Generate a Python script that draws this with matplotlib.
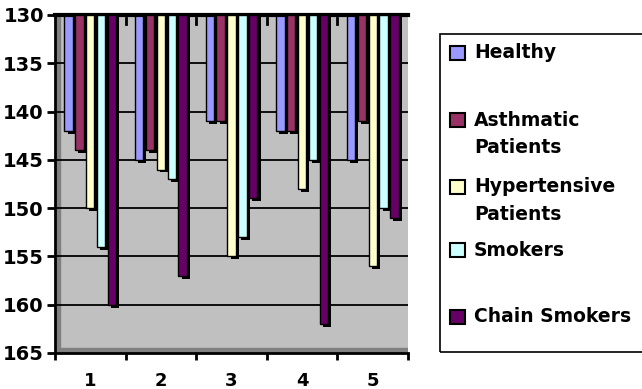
import numpy as np
import matplotlib.pyplot as plt
from matplotlib.patches import Rectangle
from matplotlib.transforms import blended_transform_factory

groups = ['1', '2', '3', '4', '5']
series = ['Healthy', 'Asthmatic\nPatients', 'Hypertensive\nPatients', 'Smokers', 'Chain Smokers']
healthy = [142, 145, 141, 142, 145]
asthmatic = [144, 144, 141, 142, 141]
hypertensive = [150, 146, 155, 148, 156]
smokers = [154, 147, 153, 145, 150]
chain_smokers = [160, 157, 149, 162, 151]
colors = ['#9999FF', '#993366', '#FFFFCC', '#CCFFFF', '#660066']
yticks = [130, 135, 140, 145, 150, 155, 160, 165]

values = [healthy, asthmatic, hypertensive, smokers, chain_smokers]
base = 130

fig = plt.figure(figsize=(6.42, 3.89), dpi=100, facecolor='white')
ax = fig.add_axes([55 / 642, 36 / 389, 353 / 642, 338 / 389])
ax.set_facecolor('#C0C0C0')

x = np.arange(len(groups))
pitch = 0.154
face_w = 0.118
dx, dy = 0.045, 0.3

for gy in yticks[1:-1]:
    ax.axhline(gy, color='black', lw=1.3, zorder=1)

# darker side wall and floor of the 3D box
ax.add_patch(Rectangle((0, 0), 0.015, 1, transform=ax.transAxes,
                       color='#808080', zorder=0.5))
ax.add_patch(Rectangle((0, 0), 1, 0.014, transform=ax.transAxes,
                       color='#808080', zorder=0.5))

for k, (vals, col) in enumerate(zip(values, colors)):
    xs = x + (k - 2) * pitch
    heights = np.array(vals) - base
    # shaded depth of each bar
    ax.bar(xs + dx, heights + dy, width=face_w, bottom=base, color='black',
           zorder=2 + k)
    ax.bar(xs, heights, width=face_w, bottom=base, color=col,
           edgecolor='black', lw=1.0, zorder=2.5 + k)

# small category separators hanging from the top edge
trans = blended_transform_factory(ax.transData, ax.transAxes)
for b in np.arange(1, len(groups)) - 0.5:
    ax.plot([b, b], [0.99, 0.972], color='black', lw=2, transform=trans,
            zorder=10)

ax.set_xlim(-0.5, len(groups) - 0.5)
ax.set_ylim(165, 130)
ax.set_yticks(yticks)
ax.set_yticklabels([str(t) for t in yticks], fontsize=14, fontweight='bold')
ax.set_xticks(x)
ax.set_xticklabels(groups, fontsize=13, fontweight='bold')
ax.set_xticks(np.arange(len(groups) + 1) - 0.5, minor=True)
ax.tick_params(axis='x', which='major', length=0, pad=14)
ax.tick_params(axis='x', which='minor', length=5, width=2, direction='out')
ax.tick_params(axis='y', length=6, width=2, pad=2)

for side in ['left', 'bottom']:
    ax.spines[side].set_linewidth(2)
ax.spines['top'].set_linewidth(3)
ax.spines['right'].set_visible(False)

# legend box on the right
fig.patches.append(Rectangle((440 / 642, 37 / 389), 210 / 642, 318 / 389,
                             transform=fig.transFigure, fill=False,
                             edgecolor='black', lw=1.2))
label_y = [53, 120, 187, 250, 317]
line_gap = 27
for lab, col, ly in zip(series, colors, label_y):
    fig.patches.append(Rectangle((450 / 642, 1 - (ly + 7) / 389),
                                 15 / 642, 14 / 389,
                                 transform=fig.transFigure, facecolor=col,
                                 edgecolor='black', lw=1.5))
    for i, line in enumerate(lab.split('\n')):
        fig.text(474 / 642, 1 - (ly + i * line_gap) / 389, line,
                 fontsize=13.5, fontweight='bold', family='DejaVu Sans',
                 va='center', ha='left')

fig.savefig('out.png', dpi=100)
